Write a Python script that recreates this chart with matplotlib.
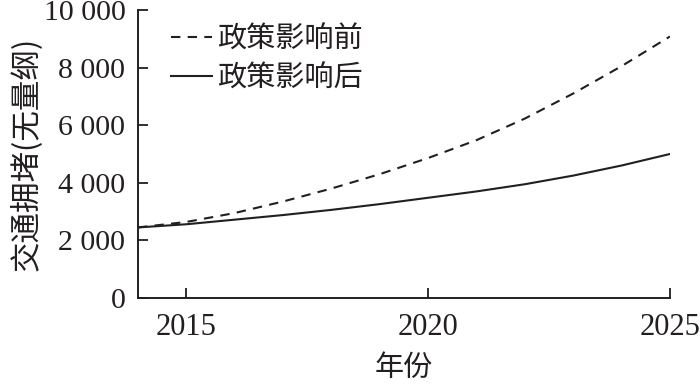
import matplotlib
matplotlib.use("Agg")
import matplotlib.pyplot as plt

# Datos
years = [2014, 2015, 2016, 2017, 2018, 2019, 2020, 2021, 2022, 2023, 2024, 2025]
before = [2450, 2640, 2950, 3350, 3800, 4300, 4860, 5480, 6230, 7100, 8050, 9080]
after = [2450, 2560, 2720, 2880, 3060, 3260, 3480, 3700, 3950, 4250, 4600, 5000]
labels = ["政策影响前", "政策影响后"]
yticks = [0, 2000, 4000, 6000, 8000, 10000]
yticklabels = ["0", "2 000", "4 000", "6 000", "8 000", "10 000"]
xticks = [2015, 2020, 2025]

serif = ["Liberation Serif", "DejaVu Serif"]
cjk = ["Noto Sans CJK SC", "DejaVu Sans"]

fig = plt.figure(figsize=(7, 3.85), dpi=100)
ax = fig.add_axes([0.197, 0.226, 0.76, 0.748])

ax.plot(years, before, color="#231f20", lw=1.5, linestyle=(0, (4.5, 3.5)), label=labels[0])
ax.plot(years, after, color="#231f20", lw=1.5, label=labels[1])

ax.set_xlim(2014, 2025)
ax.set_ylim(0, 10000)
ax.set_xticks(xticks)
ax.set_xticklabels([str(x) for x in xticks], fontfamily=serif, fontsize=22)
ax.set_yticks(yticks)
ax.set_yticklabels(yticklabels, fontfamily=serif, fontsize=21.5)
ax.tick_params(direction="in", length=7, width=1.3, colors="#231f20")
ax.tick_params(axis="y", pad=9)
ax.tick_params(axis="x", pad=11)

for s in ["top", "right"]:
    ax.spines[s].set_visible(False)
for s in ["left", "bottom"]:
    ax.spines[s].set_linewidth(1.4)
    ax.spines[s].set_color("#231f20")

ax.set_xlabel("年份", fontfamily=cjk, fontsize=21, color="#231f20", labelpad=8)
ax.set_ylabel("交通拥堵(无量纲)", fontfamily=cjk, fontsize=22, color="#231f20", labelpad=1)

leg = ax.legend(loc="upper left", bbox_to_anchor=(0.04, 0.99), frameon=False,
                prop={"family": cjk, "size": 21}, handlelength=1.4,
                handletextpad=0.2, labelspacing=0.3, borderaxespad=0)
for t in leg.get_texts():
    t.set_color("#231f20")

fig.savefig("out.png", dpi=100)
